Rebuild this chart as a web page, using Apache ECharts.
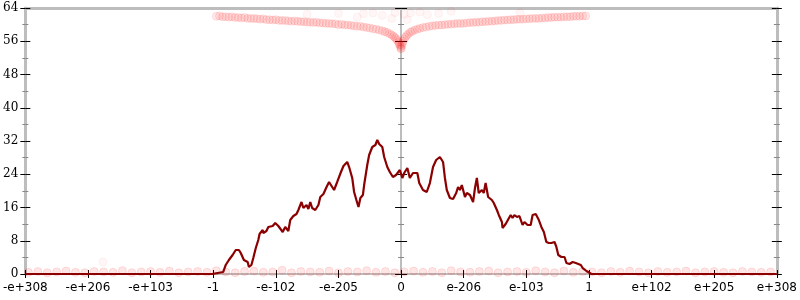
<!DOCTYPE html>
<html>
<head>
<meta charset="utf-8">
<script src="https://cdn.jsdelivr.net/npm/echarts@6/dist/echarts.min.js"></script>
<style>html,body{margin:0;padding:0;background:#fff}#c{width:800px;height:300px}</style>
</head>
<body>
<div id="c"></div>
<script>
// x tick labels (positions -6..6 map onto these)
var xTickLabels = ['-e+308','-e+206','-e+103','-1','-e-102','-e-205','0','e-206','e-103','1','e+102','e+205','e+308'];
var yTicks = [0, 8, 16, 24, 32, 40, 48, 56, 64];

// histogram line
var lineX = [-6,-3.02,-3.0,-2.84,-2.80,-2.75,-2.69,-2.64,-2.59,-2.56,-2.51,-2.45,-2.43,-2.39,-2.36,-2.32,-2.28,-2.26,-2.21,-2.20,-2.15,-2.12,-2.05,-2.01,-1.96,-1.93,-1.89,-1.85,-1.80,-1.77,-1.72,-1.67,-1.64,-1.59,-1.56,-1.51,-1.48,-1.45,-1.42,-1.37,-1.32,-1.29,-1.24,-1.19,-1.15,-1.10,-1.07,-1.02,-0.96,-0.92,-0.86,-0.83,-0.78,-0.75,-0.70,-0.68,-0.65,-0.61,-0.59,-0.54,-0.51,-0.46,-0.41,-0.38,-0.35,-0.30,-0.27,-0.22,-0.18,-0.13,-0.08,-0.05,-0.02,0.02,0.05,0.10,0.14,0.19,0.26,0.29,0.35,0.41,0.46,0.51,0.56,0.62,0.67,0.70,0.73,0.78,0.83,0.88,0.91,0.94,0.97,1.02,1.05,1.10,1.15,1.18,1.21,1.24,1.29,1.32,1.35,1.39,1.45,1.48,1.53,1.56,1.61,1.62,1.67,1.70,1.75,1.78,1.81,1.85,1.89,1.94,1.97,2.02,2.07,2.10,2.15,2.20,2.24,2.28,2.32,2.36,2.40,2.45,2.48,2.51,2.56,2.61,2.64,2.69,2.74,2.79,2.82,2.87,2.90,2.96,2.99,3.04,6];
var lineY = [0,0,0.48,0.48,2.17,3.37,4.57,5.77,5.77,5.05,3.37,2.89,1.68,2.17,3.85,6.26,8.18,9.62,10.59,9.86,10.35,11.31,11.55,12.27,11.55,11.79,10.11,11.31,10.35,12.99,13.95,14.44,15.40,17.32,15.88,16.60,15.64,17.32,15.88,15.40,16.60,18.53,19.25,20.93,22.14,20.93,20.21,22.14,24.54,25.98,26.95,25.74,23.10,19.73,17.08,16.12,18.29,19.01,21.41,26.23,28.63,30.56,31.04,32.24,31.28,30.56,28.15,25.74,24.54,23.34,23.82,23.34,25.02,23.10,24.30,25.50,23.10,24.30,24.30,21.89,20.21,19.73,21.89,25.74,27.43,28.15,26.95,23.10,20.21,18.29,18.05,19.49,20.93,20.21,21.41,18.53,19.49,19.01,17.32,20.69,23.10,19.49,20.21,19.49,21.89,18.53,17.80,17.08,15.40,14.20,12.51,11.07,12.03,12.03,14.20,13.47,14.20,13.71,13.95,11.79,12.51,11.79,11.79,14.20,14.44,12.99,11.31,10.11,7.70,7.46,7.46,7.70,6.50,4.57,4.09,4.09,2.65,2.41,2.89,2.65,2.89,2.17,1.44,0.72,0.24,0,0];

// faint points along the upper curve
var curveX = [-2.95,-2.90,-2.85,-2.80,-2.75,-2.70,-2.65,-2.60,-2.55,-2.50,-2.45,-2.40,-2.35,-2.30,-2.25,-2.20,-2.15,-2.10,-2.05,-2.00,-1.95,-1.90,-1.85,-1.80,-1.75,-1.70,-1.65,-1.60,-1.55,-1.50,-1.45,-1.40,-1.35,-1.30,-1.25,-1.20,-1.15,-1.10,-1.05,-1.00,-0.95,-0.90,-0.85,-0.80,-0.75,-0.70,-0.65,-0.60,-0.55,-0.50,-0.45,-0.40,-0.35,-0.30,-0.26,-0.22,-0.18,-0.15,-0.12,-0.10,-0.08,-0.06,-0.04,-0.03,-0.02,-0.01,-0.005,
  0.005,0.01,0.02,0.03,0.05,0.07,0.09,0.12,0.15,0.18,0.22,0.26,0.30,0.35,0.40,0.45,0.50,0.55,0.60,0.65,0.70,0.75,0.80,0.85,0.90,0.95,1.00,1.05,1.10,1.15,1.20,1.25,1.30,1.35,1.40,1.45,1.50,1.55,1.60,1.65,1.70,1.75,1.80,1.85,1.90,1.95,2.00,2.05,2.10,2.15,2.20,2.25,2.30,2.35,2.40,2.45,2.50,2.55,2.60,2.65,2.70,2.75,2.80,2.85,2.90,2.95];
var curveY = [62.0,62.1,61.9,61.9,61.8,61.9,61.7,61.7,61.6,61.7,61.5,61.5,61.5,61.4,61.3,61.4,61.2,61.2,61.1,61.2,61.0,61.0,61.0,60.9,60.8,60.9,60.8,60.7,60.7,60.6,60.6,60.5,60.6,60.4,60.4,60.3,60.3,60.2,60.2,60.0,60.1,59.9,59.9,59.8,59.7,59.6,59.6,59.4,59.3,59.2,59.0,58.9,58.7,58.5,58.3,58.1,57.8,57.5,57.2,56.9,56.6,56.2,55.8,55.4,55.1,54.7,54.2,
  54.3,55.0,55.5,56.0,56.5,57.0,57.4,57.8,58.2,58.4,58.7,58.9,59.1,59.3,59.4,59.6,59.7,59.8,59.9,59.9,60.0,60.1,60.1,60.2,60.3,60.3,60.3,60.4,60.5,60.5,60.6,60.6,60.7,60.7,60.8,60.8,60.9,61.0,61.0,61.1,61.1,61.2,61.2,61.3,61.3,61.3,61.4,61.4,61.5,61.5,61.5,61.6,61.6,61.7,61.7,61.8,61.8,61.8,61.9,61.9,61.9,62.0,62.0,62.0,62.1,62.1];

// very faint points above the curve
var faintX = [-1.5,-1.0,-0.7,-0.6,-0.45,-0.3,-0.15,-0.1,0.05,0.1,0.15,0.3,0.42,0.6,0.8,1.9,-4.76];
var faintY = [62.5,62.7,61.8,62.6,62.8,62.2,61.5,62.9,62.5,61.2,62.8,63.0,62.4,62.7,63.2,62.9,2.9];

// faint points along the floor
var floorX = [-5.95,-5.8,-5.65,-5.5,-5.35,-5.2,-5.05,-4.9,-4.75,-4.6,-4.45,-4.3,-4.15,-4.0,-3.85,-3.7,-3.55,-3.4,-3.25,-3.1,-2.95,-2.8,-2.65,-2.5,-2.35,-2.2,-2.05,-1.9,-1.75,-1.6,-1.45,-1.3,-1.15,-1.0,-0.85,-0.7,-0.55,-0.4,-0.25,-0.1,0.05,0.2,0.35,0.5,0.65,0.8,0.95,1.1,1.25,1.4,1.55,1.7,1.85,2.0,2.15,2.3,2.45,2.6,2.75,2.9,3.05,3.2,3.35,3.5,3.65,3.8,3.95,4.1,4.25,4.4,4.55,4.7,4.85,5.0,5.15,5.3,5.45,5.6,5.75,5.9];
var floorY = [0.4,0.6,0.3,0.5,0.7,0.4,0.3,0.6,0.5,0.4,0.8,0.3,0.5,0.6,0.4,0.7,0.3,0.5,0.6,0.4,0.8,0.5,0.3,0.6,0.7,0.4,0.5,0.9,0.3,0.6,0.5,0.4,0.7,0.3,0.6,0.5,0.8,0.4,0.6,0.3,0.5,0.7,0.4,0.6,0.3,0.8,0.5,0.4,0.6,0.7,0.3,0.5,0.6,0.4,0.8,0.5,0.3,0.7,0.4,0.6,0.5,0.3,0.6,0.4,0.7,0.5,0.3,0.6,0.4,0.5,0.7,0.3,0.5,0.6,0.4,0.3,0.6,0.5,0.4,0.5];

function pairs(xs, ys) { return xs.map(function (x, i) { return [x, ys[i]]; }); }

var chart = echarts.init(document.getElementById('c'), null, {renderer: 'canvas'});
var gray = '#bdbdbd';
function yAx(opts) {
  var base = {
    type: 'value', min: yTicks[0], max: yTicks[yTicks.length - 1], interval: 8,
    splitLine: {show: false},
    axisLabel: {show: false},
    axisLine: {show: false, onZero: false},
    axisTick: {show: true, length: 5, lineStyle: {color: '#000', width: 1}},
    minorTick: {show: true, splitNumber: 2, length: 3, lineStyle: {color: '#888', width: 1}}
  };
  for (var k in opts) base[k] = opts[k];
  return base;
}
var option = {
  animation: false,
  backgroundColor: '#fff',
  grid: {left: 24, right: 22, top: 8, bottom: 26},
  xAxis: [
    {type: 'value', min: -6, max: 6, interval: 1, position: 'bottom',
     splitLine: {show: false},
     axisLine: {show: true, onZero: false, lineStyle: {color: gray, width: 2}},
     axisTick: {show: true, length: 4, lineStyle: {color: '#000'}},
     axisLabel: {show: true, margin: 8, fontFamily: 'DejaVu Sans', fontSize: 12, color: '#000',
       formatter: function (v) { return xTickLabels[Math.round(v) + 6]; }}},
    {type: 'value', min: -6, max: 6, interval: 1, position: 'bottom',
     splitLine: {show: false}, axisLine: {show: false, onZero: false},
     axisTick: {show: true, inside: true, length: 4, lineStyle: {color: '#000'}},
     axisLabel: {show: false}},
    {type: 'value', min: -6, max: 6, interval: 1, position: 'top',
     splitLine: {show: false},
     axisLine: {show: true, onZero: false, lineStyle: {color: gray, width: 3}},
     axisTick: {show: false}, axisLabel: {show: false}}
  ],
  yAxis: [
    yAx({position: 'left',
      axisLine: {show: true, onZero: false, lineStyle: {color: gray, width: 3}},
      axisLabel: {show: true, margin: 7, fontFamily: 'DejaVu Serif', fontSize: 12, color: '#000'}}),
    yAx({position: 'left', axisTick: {show: true, inside: true, length: 5, lineStyle: {color: '#000'}},
      minorTick: {show: true, splitNumber: 2, length: 3, lineStyle: {color: '#888'}}}),
    yAx({position: 'right',
      axisLine: {show: true, onZero: false, lineStyle: {color: gray, width: 3}}}),
    yAx({position: 'right', axisTick: {show: true, inside: true, length: 5, lineStyle: {color: '#000'}},
      minorTick: {show: true, splitNumber: 2, length: 3, lineStyle: {color: '#888'}}}),
    yAx({position: 'left',
      axisLine: {show: true, onZero: true, onZeroAxisIndex: 0, lineStyle: {color: gray, width: 2}},
      axisTick: {show: true, length: 6, lineStyle: {color: '#000'}}}),
    yAx({position: 'left',
      axisLine: {show: false, onZero: true, onZeroAxisIndex: 0},
      axisTick: {show: true, inside: true, length: 6, lineStyle: {color: '#000'}},
      minorTick: {show: true, splitNumber: 2, length: 3, lineStyle: {color: '#888'}}})
  ],
  series: [
    {type: 'scatter', xAxisIndex: 0, yAxisIndex: 0, data: pairs(curveX, curveY), symbol: 'circle', symbolSize: 8,
     itemStyle: {color: 'rgba(255,0,0,0.10)', borderColor: 'rgba(255,0,0,0.12)', borderWidth: 1}, z: 3},
    {type: 'scatter', xAxisIndex: 0, yAxisIndex: 0, data: pairs(faintX, faintY), symbol: 'circle', symbolSize: 8,
     itemStyle: {color: 'rgba(255,0,0,0.04)', borderColor: 'rgba(255,0,0,0.06)', borderWidth: 1}, z: 3},
    {type: 'scatter', xAxisIndex: 0, yAxisIndex: 0, data: pairs(floorX, floorY), symbol: 'circle', symbolSize: 8,
     itemStyle: {color: 'rgba(255,0,0,0.12)', borderColor: 'rgba(255,0,0,0.14)', borderWidth: 1}, z: 3},
    {type: 'line', xAxisIndex: 0, yAxisIndex: 0, data: pairs(lineX, lineY), showSymbol: false, symbol: 'none',
     lineStyle: {color: '#8b0000', width: 2.2}, z: 4}
  ]
};
chart.setOption(option);
</script>
</body>
</html>
